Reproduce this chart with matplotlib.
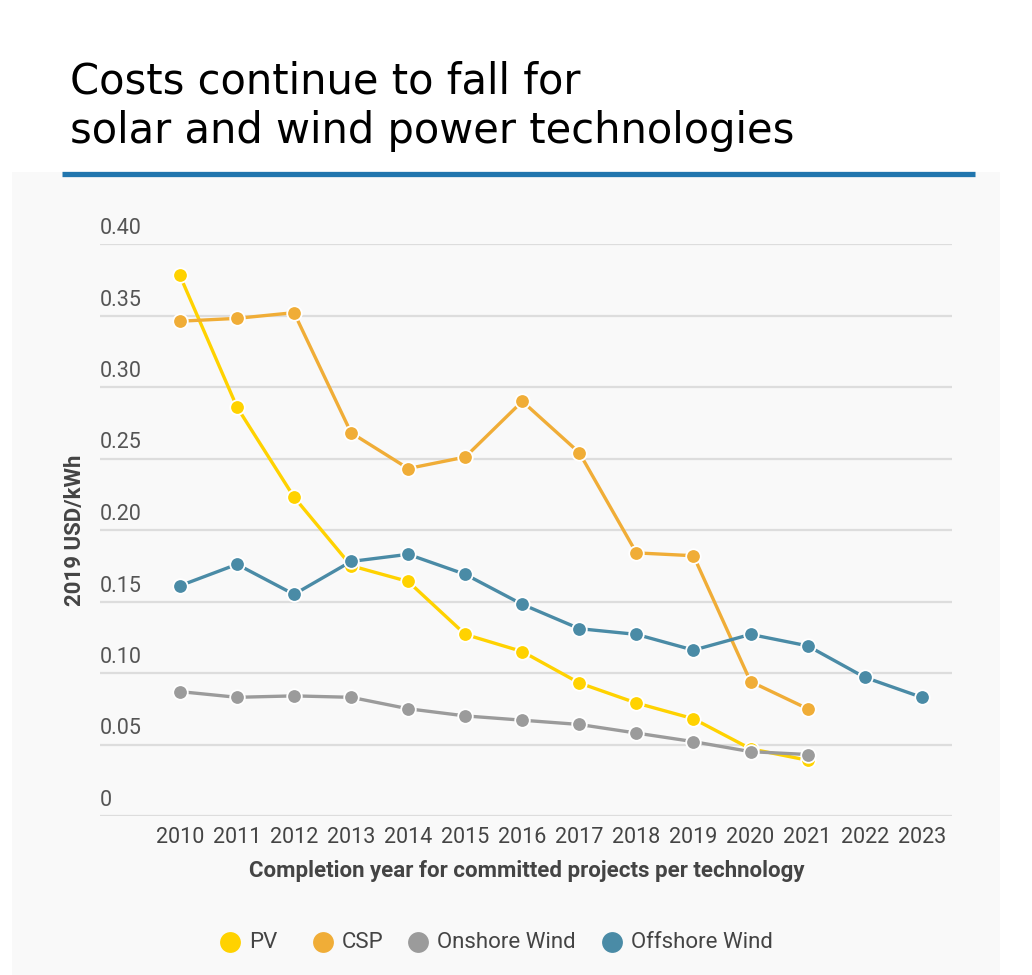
import matplotlib
matplotlib.use("Agg")
import matplotlib.pyplot as plt
from matplotlib.patches import Rectangle
from matplotlib.lines import Line2D
import matplotlib.transforms as mtransforms

plt.rcParams["font.family"] = ["Roboto", "DejaVu Sans"]

years = list(range(2010, 2024))
pv = [0.378, 0.286, 0.223, 0.175, 0.164, 0.127, 0.115, 0.093, 0.079, 0.068, 0.047, 0.039]
csp = [0.346, 0.348, 0.352, 0.268, 0.243, 0.251, 0.290, 0.254, 0.184, 0.182, 0.094, 0.075]
onshore = [0.087, 0.083, 0.084, 0.083, 0.075, 0.070, 0.067, 0.064, 0.058, 0.052, 0.045, 0.043]
offshore = [0.161, 0.176, 0.155, 0.178, 0.183, 0.169, 0.148, 0.131, 0.127, 0.116, 0.127, 0.119,
            0.097, 0.083]

series_names = ["PV", "CSP", "Onshore Wind", "Offshore Wind"]
series_colors = ["#ffd200", "#f0ad37", "#9b9b9b", "#4a8ba6"]
series_values = [pv, csp, onshore, offshore]

ytick_values = [0, 0.05, 0.10, 0.15, 0.20, 0.25, 0.30, 0.35, 0.40]
ytick_labels = ["0", "0.05", "0.10", "0.15", "0.20", "0.25", "0.30", "0.35", "0.40"]

W, H = 1032, 975
fig = plt.figure(figsize=(W / 100, H / 100), dpi=100)
fig.patch.set_facecolor("white")

# light panel behind the chart
fig.patches.append(Rectangle((12 / W, 0), 988 / W, 1 - 172 / H,
                             transform=fig.transFigure, fc="#f9f9f9", ec="none", zorder=-10))
# blue rule under the title
fig.add_artist(Line2D([62 / W, 975 / W], [1 - 173.5 / H] * 2, transform=fig.transFigure,
                      color="#2176ae", lw=3.8, solid_capstyle="butt"))

title_font = ["DejaVu Sans"]
fig.text(70 / W, 1 - 81 / H, "Costs continue to fall for", fontsize=30,
         family=title_font, color="black", va="center", ha="left")
fig.text(70 / W, 1 - 131 / H, "solar and wind power technologies", fontsize=30,
         family=title_font, color="black", va="center", ha="left")

ax = fig.add_axes([100 / W, 1 - 816 / H, 852 / W, (816 - 244) / H])
ax.set_facecolor("none")
ax.set_xlim(2008.6, 2023.53)
ax.set_ylim(0, 0.40)
for s in ax.spines.values():
    s.set_visible(False)

for v in ytick_values:
    ax.axhline(v, color="#dddddd", lw=1.6, zorder=1)

zorders = [3, 4, 5, 6]
for name, col, vals, z in zip(series_names, series_colors, series_values, zorders):
    ax.plot(years[:len(vals)], vals, color=col, lw=2.4, marker="o", markersize=10.5,
            markeredgecolor="white", markeredgewidth=1.3, zorder=z, clip_on=False)

ax.set_xticks(years)
ax.set_xticklabels([str(y) for y in years], fontsize=15.5, color="#444444")
ax.tick_params(axis="x", length=0, pad=8)
ax.set_yticks([])

# y labels sit above their gridlines, left aligned
off = mtransforms.offset_copy(ax.get_yaxis_transform(), fig=fig, x=0, y=5, units="dots")
for v, lab in zip(ytick_values, ytick_labels):
    ax.text(0, v, lab, transform=off, ha="left", va="bottom", fontsize=15.5, color="#555555")

fig.text(527 / W, 1 - 871 / H, "Completion year for committed projects per technology",
         fontsize=16, fontweight="bold", color="#444444", ha="center", va="center")
fig.text(75 / W, 1 - 530 / H, "2019 USD/kWh", fontsize=16, fontweight="bold",
         color="#444444", rotation=90, ha="center", va="center")

# legend
leg_x = [230, 323, 418, 612]
for x, name, col in zip(leg_x, series_names, series_colors):
    fig.add_artist(Line2D([x / W], [1 - 942 / H], transform=fig.transFigure, marker="o",
                          markersize=15, color=col, markeredgecolor="none", linestyle="none"))
    fig.text((x + 19) / W, 1 - 942 / H, name, fontsize=16, color="#444444",
             ha="left", va="center")

fig.savefig("out.png", dpi=100, facecolor="white")
